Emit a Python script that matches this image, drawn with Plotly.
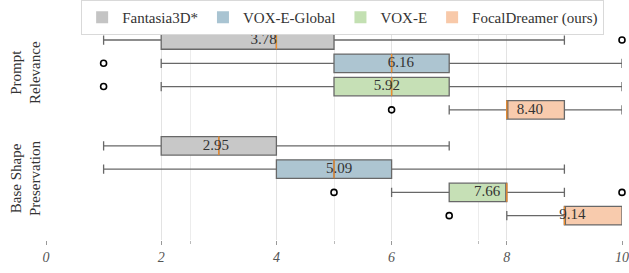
import plotly.graph_objects as go

methods = ["Fantasia3D*", "VOX-E-Global", "VOX-E", "FocalDreamer (ours)"]
groups = ["Prompt<br>Relevance", "Base Shape<br>Preservation"]
fills = ["#c8c8c8", "#adc5d1", "#c6e0b6", "#f8cbad"]
legend_cols = ["#c4c4c4", "#a9c4d2", "#c3e0b2", "#f8c9a9"]

# stats per group -> per method
lower = [[1, 2, 2, 7], [1, 1, 6, 8]]
q1 = [[2, 5, 5, 8], [2, 4, 7, 9]]
med = [[4, 6, 6, 8], [3, 5, 8, 9]]
q3 = [[5, 7, 7, 9], [4, 6, 8, 10]]
upper = [[9, 10, 10, 10], [7, 9, 9, 9]]
means = [[3.78, 6.16, 5.92, 8.40], [2.95, 5.09, 7.66, 9.14]]
outliers = [[[10], [1], [1], [6]], [[], [], [5, 10], [7]]]
xticks = [0, 2, 4, 6, 8, 10]
minor_ticks = [2.5, 5, 7.5]

step = 0.22
bw = 0.175

fig = go.Figure()
for g in range(len(groups)):
    for i, m in enumerate(methods):
        pos = g + (i - 1.5) * step
        fig.add_trace(go.Box(
            y=[pos], q1=[q1[g][i]], median=[med[g][i]], q3=[q3[g][i]],
            lowerfence=[lower[g][i]], upperfence=[upper[g][i]],
            orientation="h", width=bw, whiskerwidth=0.5,
            fillcolor=fills[i], line=dict(color="#686868", width=1.3),
            boxpoints=False, showlegend=False, hoverinfo="skip"))
        fig.add_trace(go.Scatter(
            x=[med[g][i], med[g][i]], y=[pos - bw / 2, pos + bw / 2],
            mode="lines", line=dict(color="#f28e2b", width=1.3),
            showlegend=False, hoverinfo="skip"))
        if outliers[g][i]:
            fig.add_trace(go.Scatter(
                x=outliers[g][i], y=[pos] * len(outliers[g][i]), mode="markers",
                marker=dict(symbol="circle-open", size=6, color="black",
                            line=dict(width=1.6, color="black")),
                showlegend=False, cliponaxis=False, hoverinfo="skip"))
        fig.add_trace(go.Scatter(
            x=[means[g][i]], y=[pos], mode="text", text=[f"{means[g][i]:.2f}"],
            textfont=dict(family="Liberation Serif", size=15, color="#333333"),
            showlegend=False, hoverinfo="skip"))

for i, m in enumerate(methods):
    fig.add_trace(go.Scatter(
        x=[None], y=[None], mode="markers", name=m,
        marker=dict(symbol="square", size=6, color=legend_cols[i])))

fig.update_layout(
    width=629, height=273,
    margin=dict(l=46, r=7, t=0, b=33),
    plot_bgcolor="white", paper_bgcolor="white",
    font=dict(family="Liberation Serif", size=15, color="#333333"),
    legend=dict(orientation="h", x=0.515, xanchor="center", y=1.03, yanchor="top",
                bgcolor="white", bordercolor="#d9d9d9", borderwidth=1,
                font=dict(family="Liberation Serif", size=15, color="#333333"),
                itemsizing="constant", tracegroupgap=0),
    xaxis=dict(range=[0, 10], tickvals=xticks, showgrid=True, gridcolor="#e3e3e3",
               gridwidth=1, zeroline=False, showline=False, ticks="outside",
               ticklen=4, tickcolor="#999999", automargin=False,
               tickfont=dict(family="Liberation Serif", size=14, color="#555555",
                             style="italic"),
               minor=dict(tickvals=minor_ticks, showgrid=True, gridcolor="#ececec",
                          ticks="outside", ticklen=3, tickcolor="#bbbbbb")),
    yaxis=dict(range=[1.56, -0.642], tickvals=[0, 1], ticktext=groups, tickangle=-90,
               showgrid=False, zeroline=False, showline=False, ticks="",
               automargin=False, ticklabelstandoff=2,
               tickfont=dict(family="Liberation Serif", size=15, color="#333333")),
)

fig.write_html("out.html", config={"displayModeBar": False},
               post_script="document.body.style.margin='0';document.body.style.overflow='hidden';")
